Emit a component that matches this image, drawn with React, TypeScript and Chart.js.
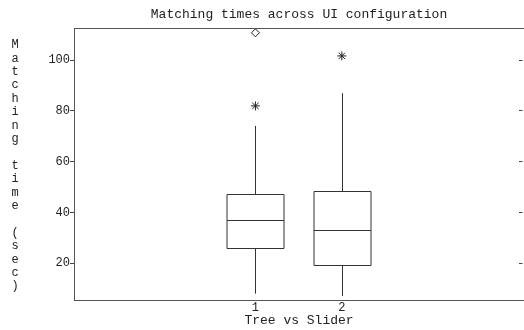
import React, { useEffect, useRef } from "react";
import { Chart, registerables } from "chart.js";

Chart.register(...registerables);

const categories = ["1", "2"];
const positions = [1, 2];
const lowerWhisker = [8, 7.1];
const q1 = [26, 19.2];
const median = [37.1, 33];
const q3 = [47.2, 48.5];
const upperWhisker = [74.1, 87];
const starOutliers = [
  { x: 1, y: 82 },
  { x: 2, y: 101.7 },
];
const diamondOutliers = [{ x: 1, y: 110.8 }];
const yTicks = [20, 40, 60, 80, 100];
const titleText = "Matching times across UI configuration";
const xTitle = "Tree vs Slider";
const yTitle = "Matching time (sec)";

const FONT = "'Liberation Mono', 'Courier New', monospace";
const LINE = "#333";

const boxPlugin = {
  id: "boxes",
  afterDatasetsDraw(chart: any) {
    const ctx = chart.ctx;
    const xs = chart.scales.x;
    const ys = chart.scales.y;
    const half = 28.5;
    ctx.save();
    ctx.strokeStyle = LINE;
    ctx.lineWidth = 1;
    for (let i = 0; i < positions.length; i++) {
      const x = Math.round(xs.getPixelForValue(positions[i])) + 0.5;
      const yQ1 = Math.round(ys.getPixelForValue(q1[i])) + 0.5;
      const yQ3 = Math.round(ys.getPixelForValue(q3[i])) + 0.5;
      const yMed = Math.round(ys.getPixelForValue(median[i])) + 0.5;
      const yLo = ys.getPixelForValue(lowerWhisker[i]);
      const yHi = ys.getPixelForValue(upperWhisker[i]);
      ctx.beginPath();
      ctx.rect(x - half, yQ3, half * 2, yQ1 - yQ3);
      ctx.moveTo(x - half, yMed);
      ctx.lineTo(x + half, yMed);
      ctx.moveTo(x, yQ3);
      ctx.lineTo(x, yHi);
      ctx.moveTo(x, yQ1);
      ctx.lineTo(x, yLo);
      ctx.stroke();
    }
    ctx.restore();
  },
};

const textPlugin = {
  id: "texts",
  afterDraw(chart: any) {
    const ctx = chart.ctx;
    const area = chart.chartArea;
    const W = chart.width;
    ctx.save();
    ctx.strokeStyle = "#555";
    ctx.lineWidth = 1;
    ctx.beginPath();
    ctx.moveTo(area.left, Math.round(area.top) + 0.5);
    ctx.lineTo(W, Math.round(area.top) + 0.5);
    ctx.moveTo(area.left, Math.round(area.bottom) + 0.5);
    ctx.lineTo(W, Math.round(area.bottom) + 0.5);
    ctx.stroke();

    ctx.fillStyle = "#222";
    ctx.textAlign = "center";
    ctx.textBaseline = "middle";
    ctx.font = "13px " + FONT;
    const cx = (area.left + W) / 2;
    ctx.fillText(titleText, cx, 15);
    ctx.fillText(xTitle, cx, 321);
    ctx.font = "12px " + FONT;
    const chars = yTitle.split("");
    for (let i = 0; i < chars.length; i++) {
      ctx.fillText(chars[i], 15, 45 + i * 13.4);
    }
    ctx.restore();
  },
};

export default function App() {
  const ref = useRef<HTMLCanvasElement>(null);
  useEffect(() => {
    document.body.style.margin = "0";
    const chart = new Chart(ref.current as HTMLCanvasElement, {
      type: "scatter",
      data: {
        datasets: [
          {
            label: "star",
            data: starOutliers,
            pointStyle: "star",
            radius: 4.5,
            borderColor: "#222",
            borderWidth: 1,
            backgroundColor: "transparent",
          },
          {
            label: "diamond",
            data: diamondOutliers,
            pointStyle: "rectRot",
            radius: 4,
            borderColor: "#222",
            borderWidth: 1,
            backgroundColor: "transparent",
          },
        ],
      },
      options: {
        animation: false,
        responsive: false,
        devicePixelRatio: 1,
        layout: { padding: { top: 28, left: 0, right: 0, bottom: 0 } },
        plugins: {
          legend: { display: false },
          title: { display: false },
          tooltip: { enabled: false },
        },
        scales: {
          x: {
            type: "linear",
            min: -1.1,
            max: 4.045,
            grid: { display: false, drawTicks: false },
            border: { display: false },
            afterBuildTicks: (s: any) => {
              s.ticks = positions.map((v) => ({ value: v }));
            },
            afterFit: (s: any) => {
              s.height = 30;
            },
            ticks: {
              padding: 1,
              color: "#222",
              font: { family: FONT, size: 12 },
              callback: (v: any) => categories[positions.indexOf(Number(v))] ?? "",
            },
          },
          y: {
            type: "linear",
            position: "left",
            min: 5.5,
            max: 112.7,
            grid: { drawOnChartArea: false, tickLength: 4, color: "#444" },
            border: { display: true, color: "#555" },
            afterBuildTicks: (s: any) => {
              s.ticks = yTicks.map((v) => ({ value: v }));
            },
            afterFit: (s: any) => {
              s.width = 74;
            },
            ticks: {
              padding: 0,
              color: "#222",
              font: { family: FONT, size: 12 },
            },
          },
          y2: {
            type: "linear",
            position: "right",
            min: 5.5,
            max: 112.7,
            grid: { drawOnChartArea: false, tickLength: 4, color: "#444" },
            border: { display: false },
            afterBuildTicks: (s: any) => {
              s.ticks = yTicks.map((v) => ({ value: v }));
            },
            afterFit: (s: any) => {
              s.width = 4;
            },
            ticks: { display: false },
          },
        },
      },
      plugins: [boxPlugin, textPlugin],
    });
    return () => chart.destroy();
  }, []);
  return (
    <div style={{ width: 524, height: 330 }}>
      <canvas ref={ref} width={524} height={330} />
    </div>
  );
}
